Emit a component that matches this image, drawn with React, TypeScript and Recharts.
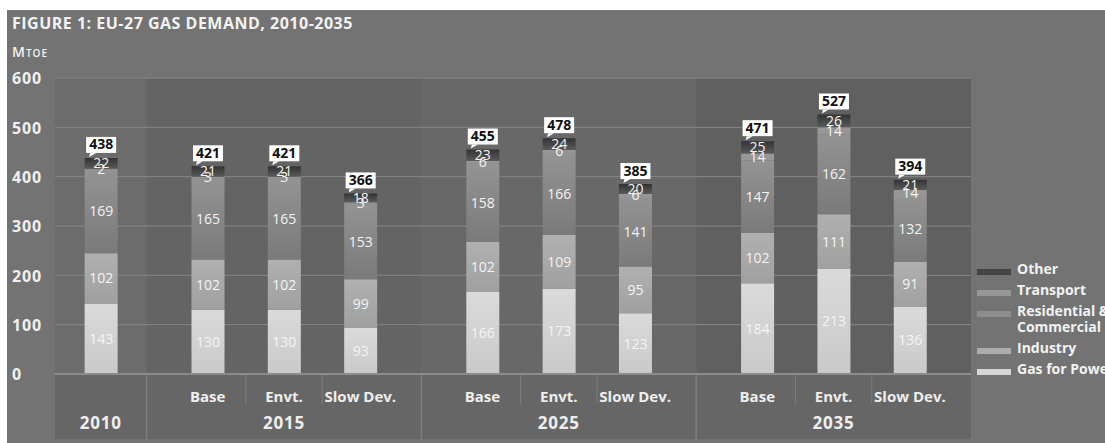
import React from "react";
import {
  BarChart,
  Bar,
  XAxis,
  YAxis,
  ReferenceArea,
  ReferenceLine,
  LabelList,
  Legend,
} from "recharts";

// EU-27 gas demand, Mtoe

const years = ["2010", "2015", "2025", "2035"];
const scenarios = [
  [""],
  ["Base", "Envt.", "Slow Dev."],
  ["Base", "Envt.", "Slow Dev."],
  ["Base", "Envt.", "Slow Dev."],
];

const gasForPower = [143, 130, 130, 93, 166, 173, 123, 184, 213, 136];
const industry = [102, 102, 102, 99, 102, 109, 95, 102, 111, 91];
const residential = [169, 165, 165, 153, 158, 166, 141, 147, 162, 132];
const transport = [2, 3, 3, 3, 6, 6, 6, 14, 14, 14];
const other = [22, 21, 21, 18, 23, 24, 20, 25, 26, 21];
const totals = [438, 421, 421, 366, 455, 478, 385, 471, 527, 394];

const yTicks = [0, 100, 200, 300, 400, 500, 600];

const FONT = "'Open Sans', sans-serif";

interface Row {
  x: number;
  year: string;
  scenario: string;
  showYear: boolean;
  gas: number;
  industry: number;
  residential: number;
  transport: number;
  other: number;
  total: number;
}

// each year takes 1 slot (single bar) or 3 slots (three scenarios)
const groups: { year: string; start: number; width: number }[] = [];
const data: Row[] = [];
{
  let start = 0;
  let i = 0;
  years.forEach((year, g) => {
    const list = scenarios[g];
    const width = list.length === 1 ? 1 : 3;
    const offsets = list.length === 1 ? [0.5] : [2 / 3, 1.5, 7 / 3];
    groups.push({ year, start, width });
    list.forEach((scenario, k) => {
      data.push({
        x: start + offsets[k],
        year,
        scenario,
        showYear: list.length === 1 || k === 1,
        gas: gasForPower[i],
        industry: industry[i],
        residential: residential[i],
        transport: transport[i],
        other: other[i],
        total: totals[i],
      });
      i++;
    });
    start += width;
  });
}
const xMax = groups[groups.length - 1].start + groups[groups.length - 1].width;

const series = [
  { key: "gas", name: "Gas for Power", fill: "url(#gGas)", swatch: "#d6d6d6" },
  { key: "industry", name: "Industry", fill: "url(#gInd)", swatch: "#acacac" },
  { key: "residential", name: "Residential & Commercial", fill: "url(#gRes)", swatch: "#8e8e8e" },
  { key: "transport", name: "Transport", fill: "#979797", swatch: "#979797" },
  { key: "other", name: "Other", fill: "url(#gOth)", swatch: "#444444" },
];

const bandFills = ["#6c6c6c", "#646464", "#686868", "#606060"];

const YTick = (props: any) => {
  const { y, payload } = props;
  return (
    <text
      x={12}
      y={y}
      dy="0.4em"
      textAnchor="start"
      fontFamily={FONT}
      fontWeight={700}
      fontSize={16}
      letterSpacing={0.8}
      fill="#f0f0f0"
    >
      {payload.value}
    </text>
  );
};

const XTick = (props: any) => {
  const { x, y, payload } = props;
  const row = data.find((d) => Math.abs(d.x - payload.value) < 1e-6);
  if (!row) return null;
  return (
    <g fontFamily={FONT} fontWeight={700} fontSize={15} fill="#eeeeee">
      {row.scenario && (
        <text x={x} y={y + 28} textAnchor="middle">
          {row.scenario}
        </text>
      )}
      {row.showYear && (
        <text x={x} y={y + 55} textAnchor="middle" fontSize={17} letterSpacing={0.8}>
          {row.year}
        </text>
      )}
    </g>
  );
};

const TotalLabel = (props: any) => {
  const { x, y, width, value } = props;
  const cx = x + width / 2;
  const w = 30;
  const h = 16;
  const bottom = y - 5;
  return (
    <g>
      <rect x={cx - w / 2} y={bottom - h} width={w} height={h} fill="#ffffff" />
      <polygon
        points={`${cx - 11},${bottom} ${cx - 5},${bottom} ${cx - 12},${y - 1}`}
        fill="#ffffff"
      />
      <text
        x={cx}
        y={bottom - 3.5}
        textAnchor="middle"
        fontFamily={FONT}
        fontWeight={700}
        fontSize={14}
        fill="#111111"
      >
        {value}
      </text>
    </g>
  );
};

const renderLegend = () => (
  <div
    style={{
      fontFamily: FONT,
      fontWeight: 700,
      fontSize: 14,
      lineHeight: "16px",
      color: "#f2f2f2",
      whiteSpace: "nowrap",
    }}
  >
    {[...series].reverse().map((s) => (
      <div key={s.key} style={{ display: "flex", alignItems: "flex-start", marginBottom: 5 }}>
        <span
          style={{
            display: "inline-block",
            width: 34,
            height: 6,
            marginTop: 8,
            marginRight: 6,
            background: s.swatch,
          }}
        />
        <span style={{ whiteSpace: s.key === "residential" ? "normal" : "nowrap", width: 110 }}>
          {s.key === "residential" ? (
            <>
              Residential &amp;
              <br />
              Commercial
            </>
          ) : (
            s.name
          )}
        </span>
      </div>
    ))}
  </div>
);

export default function App() {
  return (
    <div
      style={{
        position: "absolute",
        left: 0,
        top: 0,
        width: 1105,
        height: 443,
        overflow: "hidden",
        background: "#ffffff",
      }}
    >
      <div
        style={{ position: "absolute", left: 7, top: 10, right: 0, bottom: 0, background: "#737373" }}
      />
      <div
        style={{
          position: "absolute",
          left: 12,
          top: 15,
          fontFamily: FONT,
          fontWeight: 700,
          fontSize: 16,
          lineHeight: "16px",
          letterSpacing: 0.5,
          color: "#f2f2f2",
          whiteSpace: "nowrap",
        }}
      >
        FIGURE 1: EU-27 GAS DEMAND, 2010-2035
      </div>
      <div
        style={{
          position: "absolute",
          left: 12,
          top: 45,
          fontFamily: FONT,
          fontWeight: 600,
          fontSize: 14,
          lineHeight: "14px",
          letterSpacing: 1,
          fontVariant: "small-caps",
          color: "#f2f2f2",
        }}
      >
        Mtoe
      </div>
      <div style={{ position: "absolute", left: 0, top: 0 }}>
        <BarChart
          width={1105}
          height={443}
          data={data}
          margin={{ top: 78, right: 134, bottom: 0, left: 0 }}
        >
          <defs>
            <linearGradient id="gGas" x1="0" y1="0" x2="0" y2="1">
              <stop offset="0%" stopColor="#dadada" />
              <stop offset="100%" stopColor="#c9c9c9" />
            </linearGradient>
            <linearGradient id="gInd" x1="0" y1="0" x2="0" y2="1">
              <stop offset="0%" stopColor="#b0b0b0" />
              <stop offset="100%" stopColor="#a0a0a0" />
            </linearGradient>
            <linearGradient id="gRes" x1="0" y1="0" x2="0" y2="1">
              <stop offset="0%" stopColor="#939393" />
              <stop offset="100%" stopColor="#7a7a7a" />
            </linearGradient>
            <linearGradient id="gOth" x1="0" y1="0" x2="0" y2="1">
              <stop offset="0%" stopColor="#333333" />
              <stop offset="100%" stopColor="#5a5a5a" />
            </linearGradient>
          </defs>

          {groups.map((g, i) => (
            <ReferenceArea
              key={`band-${g.year}`}
              x1={g.start}
              x2={g.start + g.width}
              y1={0}
              y2={600}
              fill={bandFills[i]}
              fillOpacity={1}
              stroke="none"
              ifOverflow="visible"
              zIndex={-90}
            />
          ))}
          <ReferenceArea
            x1={0}
            x2={xMax}
            y1={-132}
            y2={0}
            fill="#666666"
            fillOpacity={1}
            stroke="none"
            ifOverflow="visible"
            zIndex={-90}
          />
          {yTicks.slice(1).map((t) => (
            <ReferenceLine key={`grid-${t}`} y={t} stroke="#868686" strokeWidth={1} zIndex={-80} />
          ))}
          {groups.slice(1).map((g) => (
            <ReferenceLine
              key={`sep-${g.year}`}
              segment={[
                { x: g.start, y: 0 },
                { x: g.start, y: -132 },
              ]}
              stroke="#7e7e7e"
              strokeWidth={1.5}
              ifOverflow="visible"
              zIndex={-80}
            />
          ))}
          {groups
            .filter((g) => g.width === 3)
            .flatMap((g) => [g.start + 13 / 12, g.start + 23 / 12])
            .map((sx) => (
              <ReferenceLine
                key={`sub-${sx}`}
                segment={[
                  { x: sx, y: 0 },
                  { x: sx, y: -61 },
                ]}
                stroke="#7e7e7e"
                strokeWidth={1}
                ifOverflow="visible"
                zIndex={-80}
              />
            ))}

          <XAxis
            dataKey="x"
            type="number"
            domain={[0, xMax]}
            ticks={data.map((d) => d.x)}
            tick={<XTick />}
            tickLine={false}
            tickSize={0}
            tickMargin={0}
            height={69}
            axisLine={{ stroke: "#8c8c8c", strokeWidth: 2 }}
            interval={0}
          />
          <YAxis
            domain={[0, 600]}
            ticks={yTicks}
            tick={<YTick />}
            tickLine={false}
            axisLine={false}
            width={55}
            interval={0}
          />

          {series.map((s) => (
            <Bar
              key={s.key}
              dataKey={s.key}
              name={s.name}
              stackId="a"
              fill={s.fill}
              barSize={33}
              isAnimationActive={false}
            >
              <LabelList
                dataKey={s.key}
                position="center"
                fill="#f4f4f4"
                fontFamily={FONT}
                fontSize={14}
              />
              {s.key === "other" && <LabelList dataKey="total" content={<TotalLabel />} />}
            </Bar>
          ))}

          <Legend
            layout="vertical"
            align="center"
            verticalAlign="middle"
            content={renderLegend}
            wrapperStyle={{ left: 977, top: 261, width: 160 }}
          />
        </BarChart>
      </div>
    </div>
  );
}
